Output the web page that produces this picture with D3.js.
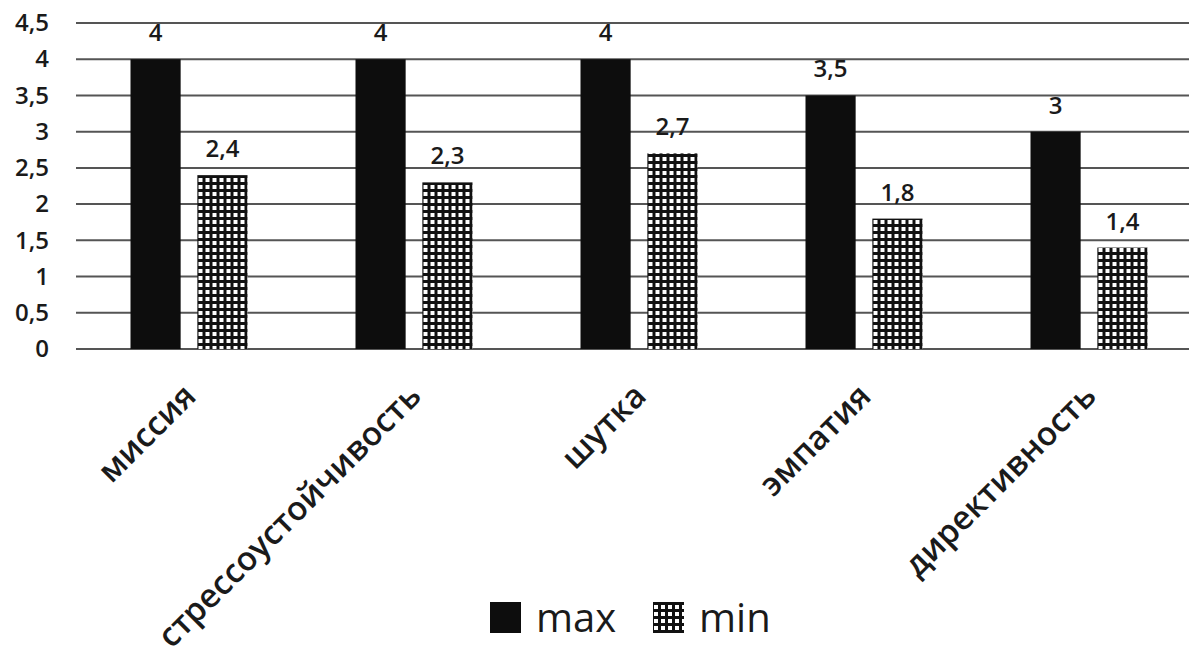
<!DOCTYPE html>
<html><head><meta charset="utf-8">
<script src="https://cdn.jsdelivr.net/npm/d3@7"></script>
<style>
html,body{margin:0;padding:0;background:#fff;}
svg{display:block;font-family:"Open Sans",sans-serif;}
</style></head>
<body>
<svg id="chart" width="1189" height="665"></svg>
<script>
const categories = ["миссия","стрессоустойчивость","шутка","эмпатия","директивность"];
const seriesNames = ["max","min"];
const maxValues = [4,4,4,3.5,3];
const minValues = [2.4,2.3,2.7,1.8,1.4];
const yTicks = [0,0.5,1,1.5,2,2.5,3,3.5,4,4.5];

const svg = d3.select("#chart");
const defs = svg.append("defs");
const pat = defs.append("pattern").attr("id","grid").attr("patternUnits","userSpaceOnUse")
  .attr("width",7).attr("height",7);
pat.append("rect").attr("width",7).attr("height",7).attr("fill","#fff");
pat.append("rect").attr("x",0).attr("y",0).attr("width",3).attr("height",7).attr("fill","#111");
pat.append("rect").attr("x",0).attr("y",0).attr("width",7).attr("height",3).attr("fill","#111");

const y = d3.scaleLinear().domain([0,4.5]).range([349,23]);
const x0 = d3.scaleBand().domain(categories).range([76.5,1201.5]);
const x1 = d3.scaleBand().domain(seriesNames).range([54,171]).paddingInner(0.25);
const fmt = v => String(v).replace(".",",");

// gridlines
svg.append("g").selectAll("line").data(yTicks).join("line")
  .attr("x1",76).attr("x2",1189)
  .attr("y1",d=>y(d)).attr("y2",d=>y(d))
  .attr("stroke","#555").attr("stroke-width",2);

// y axis labels
const yAxis = d3.axisLeft(y).tickValues(yTicks).tickFormat(fmt).tickSize(0).tickPadding(0);
const ya = svg.append("g").attr("transform","translate(49,0)").call(yAxis);
ya.select(".domain").remove();
ya.selectAll("text").attr("font-size",24).attr("font-weight",600).attr("fill","#1a1a1a")
  .attr("font-family","'Open Sans',sans-serif");

const data = categories.map((c,i)=>({cat:c, vals:[{s:"max",v:maxValues[i]},{s:"min",v:minValues[i]}]}));

const groups = svg.append("g").selectAll("g").data(data).join("g")
  .attr("transform",d=>`translate(${x0(d.cat)},0)`);
groups.selectAll("rect").data(d=>d.vals).join("rect")
  .attr("x",d=>x1(d.s)).attr("width",x1.bandwidth())
  .attr("y",d=>y(d.v)).attr("height",d=>y(0)-y(d.v))
  .attr("fill",d=>d.s==="max"?"#0d0d0d":"url(#grid)");
groups.selectAll("text").data(d=>d.vals).join("text")
  .attr("x",d=>x1(d.s)+x1.bandwidth()/2).attr("y",d=>y(d.v)-18)
  .attr("text-anchor","middle").attr("font-size",24).attr("font-weight",600).attr("fill","#1a1a1a")
  .text(d=>fmt(d.v));

// x labels
svg.append("g").selectAll("text").data(categories).join("text")
  .attr("transform",d=>`translate(${x0(d)+x0.bandwidth()/2+9},398) rotate(-45)`)
  .attr("text-anchor","end").attr("font-size",33).attr("font-weight",600).attr("fill","#1a1a1a")
  .text(d=>d);

// legend
const lg = svg.append("g");
const legendItems = [{s:"max",x:490,fill:"#0d0d0d"},{s:"min",x:653,fill:"url(#grid)"}];
lg.selectAll("rect").data(legendItems).join("rect")
  .attr("x",d=>d.x).attr("y",602).attr("width",31).attr("height",31).attr("fill",d=>d.fill);
lg.selectAll("text").data(legendItems).join("text")
  .attr("x",d=>d.x+46).attr("y",632).attr("font-size",40).attr("fill","#1a1a1a")
  .text(d=>d.s);
</script>
</body></html>
